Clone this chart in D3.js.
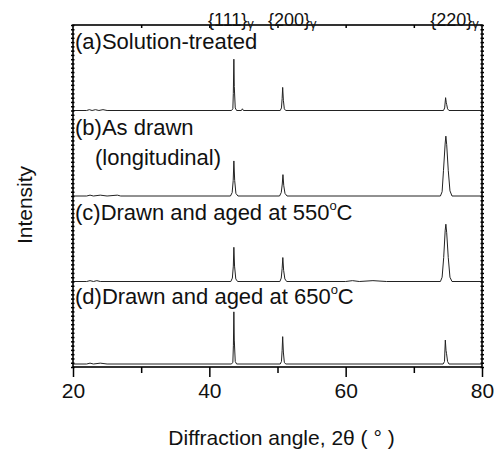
<!DOCTYPE html>
<html>
<head>
<meta charset="utf-8">
<script src="https://cdn.jsdelivr.net/npm/d3@7"></script>
<style>
  body { margin: 0; background: #fff; }
  text { font-family: "Liberation Sans", Arial, sans-serif; fill: #111; }
</style>
</head>
<body>
<div id="chart"></div>
<script>
// XRD patterns, [2theta (deg), intensity above baseline]
const solutionTreated = [
  [20, 0], [22, 0], [22.4, 1], [22.8, 0], [23.3, 1], [23.8, 0], [24.4, 1], [25, 0],
  [43.25, 0], [43.45, 2], [43.52, 20], [43.6, 60], [43.66, 28], [43.8, 3], [44, 0],
  [44.7, 0], [44.85, 2], [45, 0],
  [50.4, 0], [50.58, 3], [50.68, 14], [50.76, 27], [50.86, 12], [51, 2], [51.2, 0],
  [74.35, 0], [74.52, 3], [74.66, 15], [74.76, 9], [74.82, 7], [74.95, 2], [75.15, 0],
  [80, 0]
]
const asDrawn = [
  [20, 0], [22, 0], [22.5, 1], [23, 0], [24, 1], [25, 0], [26.5, 1], [27, 0],
  [43.1, 0], [43.35, 4], [43.5, 18], [43.6, 41], [43.72, 18], [43.9, 3], [44.2, 0],
  [50.3, 0], [50.55, 4], [50.7, 14], [50.8, 25], [50.92, 12], [51.1, 3], [51.4, 0],
  [73.9, 0], [74.15, 5], [74.35, 30], [74.6, 62], [74.7, 70], [74.82, 60], [75.05, 30], [75.3, 6], [75.6, 0],
  [80, 0]
]
const aged550 = [
  [20, 0], [22, 0], [22.5, 1], [23, 0], [23.5, 1], [24, 0],
  [43.15, 0], [43.38, 4], [43.52, 18], [43.6, 40], [43.7, 18], [43.88, 3], [44.15, 0],
  [50.35, 0], [50.55, 4], [50.68, 15], [50.78, 28], [50.9, 13], [51.08, 3], [51.35, 0],
  [60, 0], [61, 1], [62, 0], [64, 1], [66, 0],
  [73.9, 0], [74.15, 5], [74.38, 28], [74.6, 60], [74.7, 67], [74.82, 57], [75.05, 28], [75.3, 5], [75.6, 0],
  [80, 0]
]
const aged650 = [
  [20, 0], [22, 0], [22.5, 1], [23, 0], [24, 1], [25, 0],
  [43.25, 0], [43.45, 2], [43.53, 22], [43.6, 61], [43.66, 28], [43.8, 3], [44, 0],
  [50.4, 0], [50.58, 3], [50.68, 16], [50.76, 32], [50.86, 14], [51, 2], [51.2, 0],
  [74.3, 0], [74.5, 3], [74.62, 28], [74.72, 16], [74.8, 12], [74.95, 3], [75.15, 0],
  [80, 0]
]

const patterns = [solutionTreated, asDrawn, aged550, aged650]
const offsets = [300, 200, 100, 3.5]
const panelLabels = [
  ['(a)Solution-treated'],
  ['(b)As drawn', '(longitudinal)'],
  ['(c)Drawn and aged at 550', 'o', 'C'],
  ['(d)Drawn and aged at 650', 'o', 'C']
]
const planes = ['{111}', '{200}', '{220}']
const planeAt = [39.8, 48.6, 72.4]
const xMajor = [20, 40, 60, 80]
const xMinor = [30, 50, 70]

const width = 501
const height = 454
const margin = { top: 25, right: 19, bottom: 87, left: 73 }
const innerW = width - margin.left - margin.right
const innerH = height - margin.top - margin.bottom

const svg = d3.select('#chart')
  .append('svg')
  .attr('width', width)
  .attr('height', height)

const g = svg.append('g')
  .attr('transform', `translate(${margin.left},${margin.top})`)

const x = d3.scaleLinear().domain([20, 80]).range([0, innerW])
const y = d3.scaleLinear().domain([0, 400]).range([innerH, 0])

// traces
const line = d3.line()
  .x(d => x(d[0]))
  .y(d => d[1])

patterns.forEach((p, i) => {
  g.append('path')
    .datum(p.map(d => [d[0], y(d[1] + offsets[i])]))
    .attr('fill', 'none')
    .attr('stroke', '#222')
    .attr('stroke-width', 1)
    .attr('stroke-linejoin', 'round')
    .attr('d', line)
})

// frame
g.append('rect')
  .attr('width', innerW)
  .attr('height', innerH)
  .attr('fill', 'none')
  .attr('stroke', '#000')
  .attr('stroke-width', 1.6)

// dense y ticks on both sides
const yTicks = d3.range(0, 401, 5)
const yl = g.append('g').call(d3.axisLeft(y).tickValues(yTicks).tickSize(2).tickFormat(''))
const yr = g.append('g').attr('transform', `translate(${innerW},0)`)
  .call(d3.axisRight(y).tickValues(yTicks).tickSize(2).tickFormat(''))
yl.selectAll('.tick line').attr('x1', 1.5).attr('x2', -2)
yr.selectAll('.tick line').attr('x1', -1.5).attr('x2', 2)
g.selectAll('.domain').remove()

// bottom axis
const xb = g.append('g').attr('transform', `translate(0,${innerH})`)
  .call(d3.axisBottom(x).tickValues(xMajor).tickSize(10).tickPadding(6).tickFormat(d3.format('d')))
xb.select('.domain').remove()
xb.selectAll('text').attr('font-size', 21).attr('fill', '#111')
const xbm = g.append('g').attr('transform', `translate(0,${innerH})`)
  .call(d3.axisBottom(x).tickValues(xMinor).tickSize(6).tickFormat(''))
xbm.select('.domain').remove()

// top axis, inward
const xt = g.append('g')
  .call(d3.axisBottom(x).tickValues(xMinor.concat([40, 60])).tickSize(3).tickFormat(''))
xt.select('.domain').remove()

g.selectAll('.tick line').attr('stroke', '#000').attr('stroke-width', 1.5)
g.selectAll('.tick text').attr('font-family', '"Liberation Sans", Arial, sans-serif')

// plane labels above the frame
planes.forEach((p, i) => {
  const t = g.append('text')
    .attr('x', x(planeAt[i]))
    .attr('y', 0.5)
    .attr('font-size', 18)
  t.append('tspan').text(p)
  t.append('tspan').attr('font-size', 13).attr('dy', 2).text('γ')
})

// panel labels
panelLabels.forEach((lab, i) => {
  const top = y(offsets[i] < 100 ? 100 : offsets[i] + 100)
  const t = g.append('text')
    .attr('x', 2)
    .attr('y', top + (i === 3 ? 22 : 24))
    .attr('font-size', 22)
  t.append('tspan').text(lab[0])
  if (lab.length === 3) {
    t.append('tspan').attr('font-size', 13).attr('dy', -10).text(lab[1])
    t.append('tspan').attr('dy', 10).text(lab[2])
  } else if (lab.length === 2) {
    g.append('text')
      .attr('x', 22)
      .attr('y', top + 54)
      .attr('font-size', 22)
      .text(lab[1])
  }
})

// axis titles
svg.append('text')
  .attr('x', margin.left + innerW / 2 + 4)
  .attr('y', 445)
  .attr('text-anchor', 'middle')
  .attr('font-size', 21)
  .text('Diffraction angle, 2θ ( ° )')

svg.append('text')
  .attr('transform', `translate(32,205) rotate(-90)`)
  .attr('text-anchor', 'middle')
  .attr('font-size', 21)
  .text('Intensity')
</script>
</body>
</html>
